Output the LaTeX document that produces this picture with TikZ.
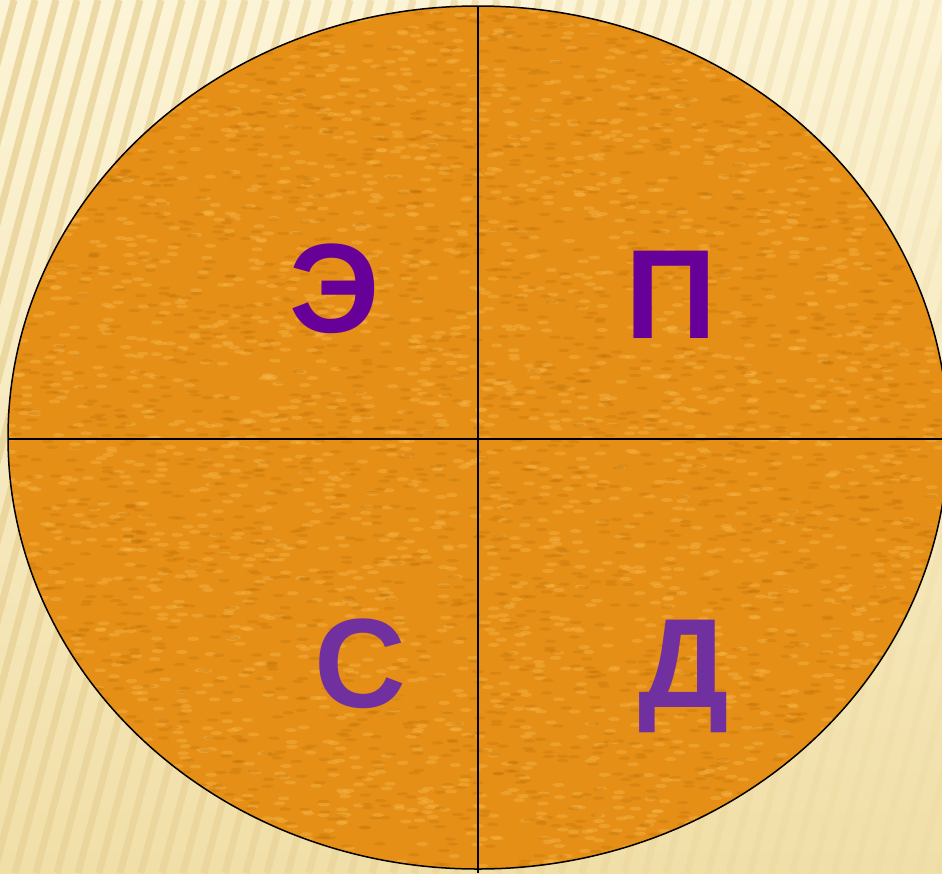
\documentclass[tikz,border=0pt]{standalone}
\usepackage{fontspec}
\newfontfamily\lettfont{Liberation Sans}
\definecolor{bgtop}{HTML}{FCF4D6}
\definecolor{bgbot}{HTML}{F1DFA8}
\definecolor{stripec}{HTML}{E6CF92}
\definecolor{orbase}{HTML}{E58F17}
\definecolor{orlight}{HTML}{F8B948}
\definecolor{ordark}{HTML}{BB6E06}
\definecolor{purpA}{HTML}{660099}
\definecolor{purpB}{HTML}{7030A0}
\tikzset{
  stripe/.style={line width=7pt, stripec},
  divider/.style={draw=black, line width=1.5pt},
  letter/.style={anchor=base, inner sep=0pt, font=\lettfont\bfseries\fontsize{127}{127}\selectfont},
}
\begin{document}
\begin{tikzpicture}[x=1pt,y=-1pt]
\useasboundingbox (0,0) rectangle (942,873);
% background
\shade[top color=bgtop, bottom color=bgbot] (0,0) rectangle (942,873);
\begin{scope}
\clip (0,0) rectangle (942,873);
\foreach \x in {-300,-279,...,1000}{
  \pgfmathsetmacro\op{max(0.12,0.7-0.55*(\x+115)/942)}
  \draw[stripe, opacity=\op] (\x+230,0) -- (\x,873);
}
\end{scope}
% textured disk
\coordinate (c) at (478,437.5);
\begin{scope}
\clip (c) ellipse [x radius=470pt, y radius=431.5pt];
\fill[orbase] (0,0) rectangle (942,873);
\pgfmathsetseed{7}
\foreach \i in {1,...,2600}{
  \pgfmathsetmacro\px{rnd*942}
  \pgfmathsetmacro\py{rnd*873}
  \fill[orlight, opacity=0.4] (\px,\py) ellipse [x radius=6pt, y radius=2pt];
}
\foreach \i in {1,...,2600}{
  \pgfmathsetmacro\px{rnd*942}
  \pgfmathsetmacro\py{rnd*873}
  \fill[ordark, opacity=0.3] (\px,\py) ellipse [x radius=6pt, y radius=1.6pt];
}
\end{scope}
\draw[divider] (c) ellipse [x radius=470pt, y radius=431.5pt];
\coordinate (top) at (478,6);
\coordinate (bot) at (478,873);
\coordinate (lft) at (8,439);
\coordinate (rgt) at (942,439);
\draw[divider] (top) -- (bot);
\draw[divider] (lft) -- (rgt);
% letters
\node[letter, text=purpA] (e) at (335,332) {Э};
\node[letter, text=purpA] (p) at (671,338) {П};
\node[letter, text=purpB] (s) at (360,707) {С};
\node[letter, text=purpB] (d) at (684,707) {Д};
\end{tikzpicture}
\end{document}
